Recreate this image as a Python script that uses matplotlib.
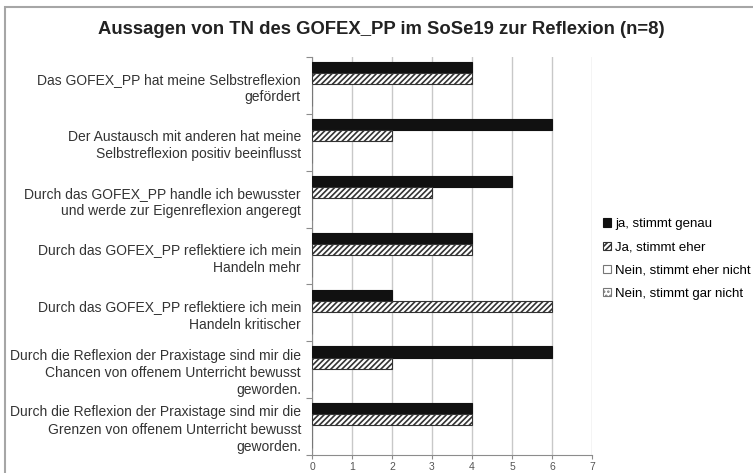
import numpy as np
import matplotlib
matplotlib.use("Agg")
import matplotlib.pyplot as plt
from matplotlib.patches import Rectangle

plt.rcParams['font.family'] = ['Liberation Sans', 'DejaVu Sans']
plt.rcParams['hatch.linewidth'] = 1.2

# data
statements = [
    "Das GOFEX_PP hat meine Selbstreflexion\ngefördert",
    "Der Austausch mit anderen hat meine\nSelbstreflexion positiv beeinflusst",
    "Durch das GOFEX_PP handle ich bewusster\nund werde zur Eigenreflexion angeregt",
    "Durch das GOFEX_PP reflektiere ich mein\nHandeln mehr",
    "Durch das GOFEX_PP reflektiere ich mein\nHandeln kritischer",
    "Durch die Reflexion der Praxistage sind mir die\nChancen von offenem Unterricht bewusst\ngeworden.",
    "Durch die Reflexion der Praxistage sind mir die\nGrenzen von offenem Unterricht bewusst\ngeworden.",
]
series_names = ["ja, stimmt genau", "Ja, stimmt eher",
                "Nein, stimmt eher nicht", "Nein, stimmt gar nicht"]
ja_genau = [4, 6, 5, 4, 2, 6, 4]
ja_eher = [4, 2, 3, 4, 6, 2, 4]
nein_eher = [0, 0, 0, 0, 0, 0, 0]
nein_gar = [0, 0, 0, 0, 0, 0, 0]
x_ticks = [0, 1, 2, 3, 4, 5, 6, 7]

fig = plt.figure(figsize=(7.53, 4.73), dpi=100)
ax = fig.add_axes([312 / 753, 1 - 455 / 473, 280 / 753, 398 / 473])

# outer chart border
fig.patches.append(Rectangle((5 / 753, -0.1), 1.2, 1.1 - 7 / 473,
                             transform=fig.transFigure, fill=False,
                             edgecolor='#a6a6a6', linewidth=1.5))

y = np.arange(len(statements))
h = 0.195
styles = [
    dict(color='#111111', edgecolor='#111111'),
    dict(facecolor='white', edgecolor='#333333', hatch='//////'),
    dict(facecolor='white', edgecolor='#777777'),
    dict(facecolor='white', edgecolor='#777777', hatch='....'),
]
all_vals = [ja_genau, ja_eher, nein_eher, nein_gar]
for k, (vals, st, name) in enumerate(zip(all_vals, styles, series_names)):
    ax.barh(y + (k - 1.6) * h, vals, height=h, label=name, linewidth=0.8,
            zorder=3, **st)

ax.set_xlim(0, 7)
ax.set_ylim(6.5, -0.5)
ax.set_xticks(x_ticks)
ax.tick_params(axis='x', colors='#8c8c8c', labelcolor='#555555',
               labelsize=7.5, length=3, pad=2)
ax.set_yticks(np.arange(-0.5, 7, 1))
ax.set_yticklabels([])
ax.tick_params(axis='y', which='major', colors='#8c8c8c', length=4)
ax.set_yticks(y, minor=True)
ax.set_yticklabels(statements, minor=True, fontsize=10, color='#333333',
                   multialignment='right', linespacing=1.3)
ax.tick_params(axis='y', which='minor', length=0, pad=8)
ax.grid(axis='x', color='#c8c8c8', linewidth=1, zorder=0)
for side in ['top', 'right']:
    ax.spines[side].set_visible(False)
for side in ['left', 'bottom']:
    ax.spines[side].set_color('#8c8c8c')

fig.text(0.507, 1 - 30 / 473, "Aussagen von TN des GOFEX_PP im SoSe19 zur Reflexion (n=8)",
         ha='center', va='center', fontsize=13.3, fontweight='bold', color='#222222')

fig.legend(loc='upper left', bbox_to_anchor=(598 / 753, 1 - 213 / 473),
           frameon=False, fontsize=9.5, handlelength=0.6, handleheight=0.6,
           handletextpad=0.3, labelspacing=0.85, borderaxespad=0)

fig.savefig("out.png", dpi=100)
